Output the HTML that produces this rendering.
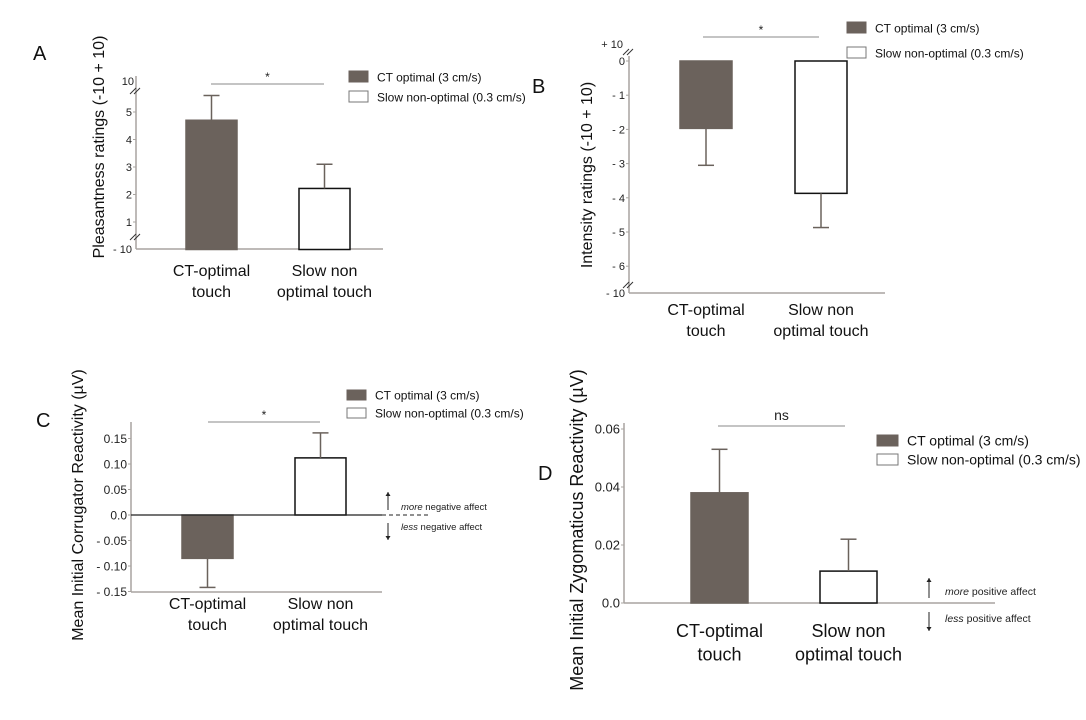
<!DOCTYPE html>
<html><head><meta charset="utf-8"><style>
body{margin:0;background:#fff}
svg{display:block;font-family:"Liberation Sans",sans-serif}
</style></head><body>
<svg id="fig" width="1086" height="720" viewBox="0 0 1086 720"></svg>
<script>
// ---- data ----
const categories = ["CT-optimal touch","Slow non optimal touch"];
const seriesNames = ["CT optimal (3 cm/s)","Slow non-optimal (0.3 cm/s)"];
const meansA = [4.7, 2.22];
const errA = [0.9, 0.88];
const ticksA = [1,2,3,4,5];
const meansB = [-1.97, -3.87];
const errB = [1.08, 1.0];
const ticksB = [0,-1,-2,-3,-4,-5,-6];
const meansC = [-0.085, 0.112];
const errC = [0.057, 0.049];
const ticksC = [0.15,0.10,0.05,0.0,-0.05,-0.10,-0.15];
const tickLabelsC = ["0.15","0.10","0.05","0.0","- 0.05","- 0.10","- 0.15"];
const meansD = [0.038, 0.011];
const errD = [0.015, 0.011];
const ticksD = [0.0,0.02,0.04,0.06];
const tickLabelsD = ["0.0","0.02","0.04","0.06"];
const sigLabels = ["*","*","*","ns"];

const NS="http://www.w3.org/2000/svg";
const svg=document.getElementById('fig');
function el(tag,attrs,parent,text){const e=document.createElementNS(NS,tag);for(const k in attrs)e.setAttribute(k,attrs[k]);if(text!==undefined)e.textContent=text;(parent||svg).appendChild(e);return e;}
const AX="#a8a4a0", BAR="#6b625c";

function panel(p){
  const g=el('g',{});
  
  
  const y=v=>p.y0 - (v-p.v0)*p.k;
  let a=el('line',{x1:p.ax,y1:p.axTop,x2:p.ax,y2:p.axBot,stroke:AX,'stroke-width':1.5},g);
  
  a=el('line',{x1:p.ax,y1:p.xAxisY,x2:p.axEnd,y2:p.xAxisY,stroke:p.xAxisColor||AX,'stroke-width':1.5},g);
  
  p.ticks.forEach((t,i)=>{
    const ty=y(t);
    const tl=el('line',{x1:p.ax-3,y1:ty,x2:p.ax,y2:ty,stroke:AX,'stroke-width':1},g);
    
    const tx=el('text',{x:p.ax-4,y:ty+p.tfs*0.36,'text-anchor':'end','font-size':p.tfs,fill:'#222'},g,p.tickLabels?p.tickLabels[i]:(t<0?'- '+(-t):String(t)));
    
  });
  (p.extraTicks||[]).forEach(e=>{
    const tx=el('text',{x:p.ax-4+(e.dx||0),y:e.y+p.tfs*0.36,'text-anchor':'end','font-size':p.tfs,fill:'#222'},g,e.t);
    
  });
  (p.breaks||[]).forEach(by=>{
    [-2,2].forEach(d=>{el('line',{x1:p.ax-4+d,y1:by+3,x2:p.ax+2+d,y2:by-3,stroke:'#333','stroke-width':1},g);});
  });
  p.means.forEach((m,i)=>{
    const x0=p.barX[i], w=p.barW;
    const base=y(p.base), top=y(m);
    const yt=Math.min(base,top), h=Math.abs(base-top);
    const b=el('rect',{x:x0,y:yt,width:w,height:h,fill:i==0?BAR:'#fff',stroke:i==0?BAR:'#111','stroke-width':1.5},g);
    
    const ev = m + (m>=p.base?1:-1)*p.errs[i];
    const cx=x0+w/2;
    const e1=el('line',{x1:cx,y1:top,x2:cx,y2:y(ev),stroke:'#6a625c','stroke-width':1.5},g);
    
    el('line',{x1:cx-8,y1:y(ev),x2:cx+8,y2:y(ev),stroke:'#6a625c','stroke-width':1.5},g);
    const c=el('text',{x:cx,y:p.catY,'text-anchor':'middle','font-size':p.cfs,fill:'#111'},g);
    
    const words=i==0?["CT-optimal","touch"]:["Slow non","optimal touch"];
    words.forEach((w2,j)=>el('tspan',{x:cx,dy:j==0?0:p.cfs*1.3},c,w2));
  });
  const s=el('line',{x1:p.sig[0],y1:p.sig[2],x2:p.sig[1],y2:p.sig[2],stroke:'#888','stroke-width':1},g);
  
  const st=el('text',{x:(p.sig[0]+p.sig[1])/2,y:p.sig[2]-(p.sigLabel=='ns'?6:3),'text-anchor':'middle','font-size':p.sigLabel=='ns'?14:12,fill:'#222'},g,p.sigLabel);
  
  seriesNames.forEach((n,i)=>{
    const ly=p.leg[1]+i*p.leg[3];
    const r=el('rect',{x:p.leg[0],y:ly,width:p.leg[2],height:p.leg[4],fill:i==0?BAR:'#fff',stroke:i==0?BAR:'#777','stroke-width':1},g);
    
    const t=el('text',{x:p.leg[0]+p.leg[2]+9,y:ly+p.leg[4]-0.5,'font-size':p.lfs,fill:'#111'},g,n);
    
  });
  const yt=el('text',{x:p.title[0],y:p.title[1],'text-anchor':'middle','font-size':p.title[2],fill:'#111',transform:`rotate(-90 ${p.title[0]} ${p.title[1]})`},g,p.titleText);
  
  const L=el('text',{x:p.lab[0],y:p.lab[1],'font-size':20,fill:'#111'},g,p.id);
  
  return {g,y};
}

panel({id:'A',ax:136,axTop:76,axBot:249,xAxisY:249,axEnd:383,v0:0,y0:249.5,k:27.5,base:0,
  ticks:ticksA,tfs:11,extraTicks:[{t:'10',y:81,dx:2},{t:'- 10',y:249}],breaks:[91,237],
  means:meansA,errs:errA,barX:[186,299],barW:51,catY:276,cfs:16,
  sig:[211,324,84],sigLabel:sigLabels[0],leg:[349,71,19,20,11],lfs:12,
  title:[104,147,16],titleText:'Pleasantness ratings (-10 + 10)',lab:[33,60]});

panel({id:'B',ax:629,axTop:56,axBot:293,xAxisY:293,axEnd:885,v0:0,y0:61,k:34.2,base:0,
  ticks:ticksB,tfs:11,extraTicks:[{t:'+ 10',y:44,dx:-2},{t:'- 10',y:293}],breaks:[52,285],
  means:meansB,errs:errB,barX:[680,795],barW:52,catY:315,cfs:16,
  sig:[703,819,37],sigLabel:sigLabels[1],leg:[847,22,19,25,11],lfs:12,
  title:[592,175,16],titleText:'Intensity ratings (-10 + 10)',lab:[532,93]});

const pc=panel({id:'C',ax:131,axTop:422,axBot:592,xAxisY:592,axEnd:382,v0:0,y0:515,k:510,base:0,
  ticks:ticksC,tickLabels:tickLabelsC,tfs:12,
  means:meansC,errs:errC,barX:[182,295],barW:51,catY:609,cfs:16,
  sig:[208,320,422],sigLabel:sigLabels[2],leg:[347,390,19,18,10],lfs:12,
  title:[83,505,16],titleText:'Mean Initial Corrugator Reactivity (\u00b5V)',lab:[36,427]});
let z=el('line',{x1:131,y1:515,x2:382,y2:515,stroke:'#222','stroke-width':1.2},pc.g);

z=el('line',{x1:382,y1:515,x2:430,y2:515,stroke:'#222','stroke-width':1,'stroke-dasharray':'4 3'},pc.g);


const pd=panel({id:'D',ax:624,axTop:423,axBot:603,xAxisY:603,axEnd:995,v0:0,y0:603,k:2900,base:0,
  ticks:ticksD,tickLabels:tickLabelsD,tfs:13,
  means:meansD,errs:errD,barX:[691,820],barW:57,catY:637,cfs:18,
  sig:[718,845,426],sigLabel:sigLabels[3],leg:[877,435,21,19,11],lfs:14,
  title:[583,530,18],titleText:'Mean Initial Zygomaticus Reactivity (\u00b5V)',lab:[538,480]});

function arrow(g,x,y1,y2){el('line',{x1:x,y1:y1,x2:x,y2:y2,stroke:'#222','stroke-width':1},g);
  const d=y2<y1?-1:1; el('polygon',{points:`${x-2.5},${y2-d*4} ${x+2.5},${y2-d*4} ${x},${y2}`,fill:'#222'},g);}
function note(g,x,y,it,rest,fs){const t=el('text',{x:x,y:y,'font-size':fs,fill:'#222'},g);
  
  el('tspan',{'font-style':'italic'},t,it);el('tspan',{},t,' '+rest);}
arrow(pc.g,388,510,492);arrow(pc.g,388,523,540);
note(pc.g,401,510,'more','negative affect',9.5);note(pc.g,401,530,'less','negative affect',9.5);
arrow(pd.g,929,598,578);arrow(pd.g,929,612,631);
note(pd.g,945,595,'more','positive affect',10.5);note(pd.g,945,622,'less','positive affect',10.5);
</script>
</body></html>
